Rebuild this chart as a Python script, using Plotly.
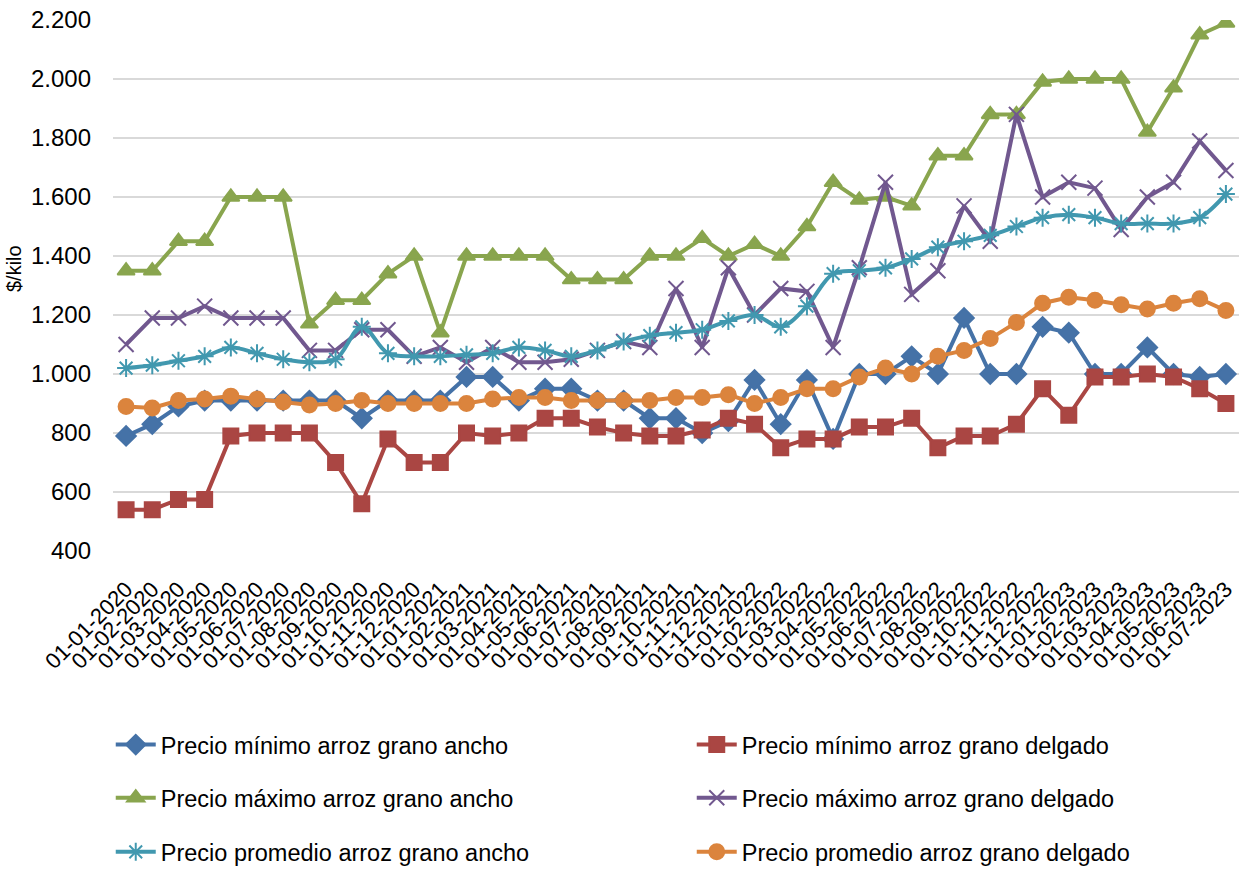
import plotly.graph_objects as go

# Monthly dates (day-month-year)
fechas = [
    "01-01-2020", "01-02-2020", "01-03-2020", "01-04-2020", "01-05-2020", "01-06-2020",
    "01-07-2020", "01-08-2020", "01-09-2020", "01-10-2020", "01-11-2020", "01-12-2020",
    "01-01-2021", "01-02-2021", "01-03-2021", "01-04-2021", "01-05-2021", "01-06-2021",
    "01-07-2021", "01-08-2021", "01-09-2021", "01-10-2021", "01-11-2021", "01-12-2021",
    "01-01-2022", "01-02-2022", "01-03-2022", "01-04-2022", "01-05-2022", "01-06-2022",
    "01-07-2022", "01-08-2022", "01-09-2022", "01-10-2022", "01-11-2022", "01-12-2022",
    "01-01-2023", "01-02-2023", "01-03-2023", "01-04-2023", "01-05-2023", "01-06-2023",
    "01-07-2023",
]

# Prices in $/kilo
min_ancho = [790, 830, 890, 910, 910, 910, 910, 910, 910, 850, 910,
             910, 910, 990, 990, 910, 950, 950, 910, 910, 850, 850,
             800, 840, 980, 830, 980, 780, 1000, 1000, 1060, 1000,
             1190, 1000, 1000, 1160, 1140, 1000, 1000, 1090, 1000, 990, 1000]
min_delgado = [540, 540, 575, 575, 790, 800, 800, 800, 700, 560, 780,
               700, 700, 800, 790, 800, 850, 850, 820, 800, 790, 790,
               810, 850, 830, 750, 780, 780, 820, 820, 850, 750,
               790, 790, 830, 950, 860, 990, 990, 1000, 990, 950, 900]
max_ancho = [1350, 1350, 1450, 1450, 1600, 1600, 1600, 1170, 1250, 1250, 1340,
             1400, 1140, 1400, 1400, 1400, 1400, 1320, 1320, 1320, 1400, 1400,
             1460, 1400, 1440, 1400, 1500, 1650, 1590, 1600, 1570, 1740,
             1740, 1880, 1880, 1990, 2000, 2000, 2000, 1820, 1970, 2150, 2190]
max_delgado = [1100, 1190, 1190, 1230, 1190, 1190, 1190, 1080, 1080, 1150, 1150,
               1060, 1090, 1040, 1090, 1040, 1040, 1050, 1080, 1110, 1090, 1290,
               1090, 1360, 1200, 1290, 1280, 1090, 1360, 1650, 1270, 1350,
               1570, 1450, 1880, 1600, 1650, 1630, 1490, 1600, 1650, 1790, 1690]
prom_ancho = [1020, 1030, 1045, 1060, 1090, 1070, 1050, 1040, 1050, 1160, 1070,
              1060, 1060, 1065, 1070, 1090, 1080, 1060, 1080, 1110, 1130, 1140,
              1150, 1180, 1200, 1160, 1230, 1340, 1350, 1360, 1390, 1430,
              1450, 1470, 1500, 1530, 1540, 1530, 1510, 1510, 1510, 1530, 1610]
prom_delgado = [890, 885, 910, 915, 925, 915, 905, 895, 900, 910, 900,
                900, 900, 900, 915, 920, 920, 910, 910, 910, 910, 920,
                920, 930, 900, 920, 950, 950, 990, 1020, 1000, 1060,
                1080, 1120, 1175, 1240, 1260, 1250, 1235, 1220, 1240, 1255, 1215]

y_ticks = [400, 600, 800, 1000, 1200, 1400, 1600, 1800, 2000, 2200]
y_labels = ["400", "600", "800", "1.000", "1.200", "1.400", "1.600", "1.800", "2.000", "2.200"]

FONT = "Arial, Liberation Sans, sans-serif"

# name, values, colour, marker symbol, marker size, line shape, legend, rank
series = [
    ("Precio mínimo arroz grano ancho", min_ancho, "#4572A7", "diamond", 15, "linear", "legend", 1),
    ("Precio máximo arroz grano ancho", max_ancho, "#89A54E", "triangle-up", 15, "linear", "legend2", 1),
    ("Precio máximo arroz grano delgado", max_delgado, "#71588F", "x-thin-open", 15, "linear", "legend2", 2),
    ("Precio promedio arroz grano ancho", prom_ancho, "#4198AF", "asterisk-open", 15, "spline", "legend3", 1),
    ("Precio mínimo arroz grano delgado", min_delgado, "#AA4643", "square", 15, "linear", "legend", 2),
    ("Precio promedio arroz grano delgado", prom_delgado, "#DB843D", "circle", 15, "linear", "legend3", 2),
]

fig = go.Figure()
for name, vals, color, sym, size, shape, leg, rank in series:
    fig.add_trace(go.Scatter(
        x=fechas, y=vals, name=name, mode="lines+markers",
        line=dict(color=color, width=4, shape=shape),
        marker=dict(symbol=sym, size=size, color=color,
                    line=dict(color=color, width=2)),
        legend=leg, legendrank=rank,
    ))

legend_common = dict(
    orientation="h", xanchor="left", yanchor="middle",
    x=-0.002, entrywidth=526, entrywidthmode="pixels",
    font=dict(family=FONT, size=23.5, color="#000000"),
    bgcolor="rgba(0,0,0,0)", itemwidth=40,
)

fig.update_layout(
    width=1246, height=869,
    margin=dict(l=113, r=7, t=20, b=318, autoexpand=False),
    paper_bgcolor="white", plot_bgcolor="white",
    font=dict(family=FONT, size=22, color="#000000"),
    legend=dict(**legend_common, y=-0.365),
    legend2=dict(**legend_common, y=-0.465),
    legend3=dict(**legend_common, y=-0.567),
    annotations=[dict(
        text="$/kilo", textangle=-90, xref="paper", yref="paper",
        x=(14 - 113) / 1126, y=(551 - 269) / 531,
        xanchor="center", yanchor="middle", showarrow=False,
        font=dict(family=FONT, size=20, color="#000000"),
    )],
)

fig.update_xaxes(
    type="category", range=[-0.5, len(fechas) - 0.5],
    tickangle=-45, showgrid=False, showline=False, ticks="",
    ticklabelstandoff=20, automargin=False,
    tickfont=dict(family=FONT, size=22, color="#000000"),
)
fig.update_yaxes(
    range=[400, 2200], tickvals=y_ticks, ticktext=y_labels,
    showgrid=True, gridcolor="#D9D9D9", gridwidth=2,
    zeroline=False, showline=False, ticks="",
    ticklabelstandoff=21, automargin=False,
    tickfont=dict(family=FONT, size=24, color="#000000"),
)

fig.write_html("out.html")
